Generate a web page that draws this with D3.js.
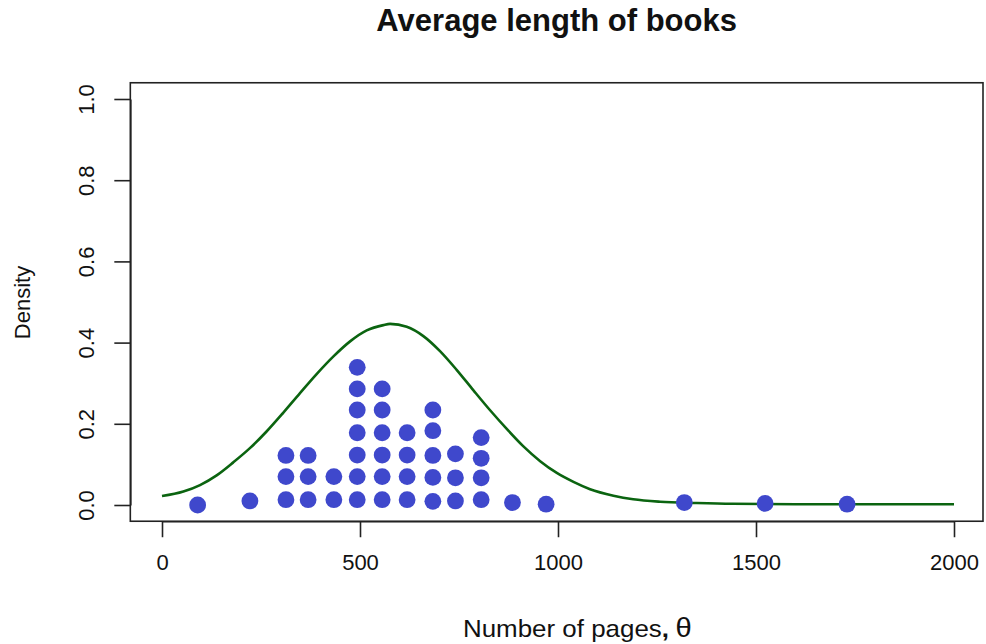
<!DOCTYPE html>
<html>
<head>
<meta charset="utf-8">
<script src="https://cdn.jsdelivr.net/npm/d3@7"></script>
<style>
  html, body { margin: 0; padding: 0; background: #fff; }
  svg { display: block; font-family: "Liberation Sans", Arial, sans-serif; }
</style>
</head>
<body>
<svg id="chart" width="986" height="644"></svg>
<script>
// Page counts of the books (dot columns) and the stacked heights of each dot
const dotPages = [90, 222, 313, 369, 434, 493, 556, 619, 684, 741, 806, 885, 970, 1319, 1523, 1730];
const dotStacks = [
  [0.0],
  [0.01],
  [0.013, 0.07, 0.122],
  [0.013, 0.07, 0.122],
  [0.013, 0.07],
  [0.013, 0.07, 0.123, 0.178, 0.234, 0.286, 0.339],
  [0.013, 0.07, 0.123, 0.178, 0.234, 0.286],
  [0.013, 0.07, 0.123, 0.178],
  [0.009, 0.068, 0.122, 0.183, 0.234],
  [0.01, 0.067, 0.126],
  [0.013, 0.067, 0.115, 0.166],
  [0.006],
  [0.002],
  [0.006],
  [0.004],
  [0.002]
];

// Fitted density curve, sampled along the page axis
const curvePages   = [0, 54, 96, 138, 180, 222, 264, 306, 348, 391, 433, 475, 517, 559, 576, 618, 660, 702, 744, 786, 828, 870, 912, 955, 997, 1039, 1081, 1140, 1190, 1258, 1350, 1440, 1600, 2000];
const curveDensity = [0.022, 0.033, 0.049, 0.073, 0.105, 0.140, 0.181, 0.227, 0.275, 0.323, 0.366, 0.403, 0.430, 0.443, 0.446, 0.439, 0.416, 0.379, 0.333, 0.283, 0.234, 0.188, 0.145, 0.108, 0.079, 0.057, 0.039, 0.023, 0.014, 0.008, 0.005, 0.003, 0.002, 0.002];

// Axis ticks
const xTicks = [0, 500, 1000, 1500, 2000];
const yTicks = [0, 0.2, 0.4, 0.6, 0.8, 1.0];

const svg = d3.select("#chart");

const x = d3.scaleLinear().domain([0, 2000]).range([162, 954]);
const y = d3.scaleLinear().domain([0, 1]).range([505, 99]);

const box = { left: x(-80), right: 983, top: y(1.04), bottom: y(-0.04) };

// Title
svg.append("text")
  .attr("x", (box.left + box.right) / 2)
  .attr("y", 31)
  .attr("text-anchor", "middle")
  .attr("font-size", 31)
  .attr("font-weight", "bold")
  .attr("fill", "#111")
  .text("Average length of books");

// Density curve
const line = d3.line()
  .x(d => x(d[0]))
  .y(d => y(d[1]))
  .curve(d3.curveMonotoneX);

svg.append("path")
  .datum(curvePages.map((p, i) => [p, curveDensity[i]]))
  .attr("d", line)
  .attr("fill", "none")
  .attr("stroke", "#0b6410")
  .attr("stroke-width", 2.6);

// Dots
const dots = [];
dotPages.forEach((p, i) => dotStacks[i].forEach(h => dots.push({ p, h })));

svg.append("g")
  .selectAll("circle")
  .data(dots)
  .join("circle")
  .attr("cx", d => x(d.p))
  .attr("cy", d => y(d.h))
  .attr("r", 8.4)
  .attr("fill", "#3f48cc");

// Plot frame
svg.append("rect")
  .attr("x", box.left)
  .attr("y", box.top)
  .attr("width", box.right - box.left)
  .attr("height", box.bottom - box.top)
  .attr("fill", "none")
  .attr("stroke", "#222")
  .attr("stroke-width", 1.6);

// X axis
const xAxis = svg.append("g")
  .attr("transform", `translate(0,${box.bottom})`)
  .call(d3.axisBottom(x).tickValues(xTicks).tickFormat(d3.format("d")).tickSize(16).tickSizeOuter(0));
xAxis.select(".domain").attr("stroke", "#222").attr("stroke-width", 1.6);
xAxis.selectAll(".tick line").attr("stroke", "#222").attr("stroke-width", 1.6);
xAxis.selectAll(".tick text")
  .attr("y", 49)
  .attr("dy", 0)
  .attr("font-size", 22)
  .attr("font-family", "'Liberation Sans', Arial, sans-serif")
  .attr("fill", "#111");

// Y axis
const yAxis = svg.append("g")
  .attr("transform", `translate(${box.left},0)`)
  .call(d3.axisLeft(y).tickValues(yTicks).tickFormat(d3.format(".1f")).tickSize(16).tickSizeOuter(0));
yAxis.select(".domain").attr("stroke", "#222").attr("stroke-width", 1.6);
yAxis.selectAll(".tick line").attr("stroke", "#222").attr("stroke-width", 1.6);
yAxis.selectAll(".tick text")
  .attr("x", null)
  .attr("dy", null)
  .attr("text-anchor", "middle")
  .attr("transform", "translate(-36,0) rotate(-90)")
  .attr("font-size", 22)
  .attr("font-family", "'Liberation Sans', Arial, sans-serif")
  .attr("fill", "#111");

// Axis titles
svg.append("text")
  .attr("transform", `translate(30,${(y(0) + y(1)) / 2 + 0.5}) rotate(-90)`)
  .attr("text-anchor", "middle")
  .attr("font-size", 22)
  .attr("fill", "#111")
  .text("Density");

const xTitle = svg.append("text")
  .attr("transform", "translate(463,637) scale(1.08,1)")
  .attr("font-size", 24)
  .attr("fill", "#111");
xTitle.append("tspan").text("Number of pages");
xTitle.append("tspan").attr("font-weight", "bold").text(",");
xTitle.append("tspan").attr("dx", 6).attr("font-size", 27).text("\u03b8");
</script>
</body>
</html>
